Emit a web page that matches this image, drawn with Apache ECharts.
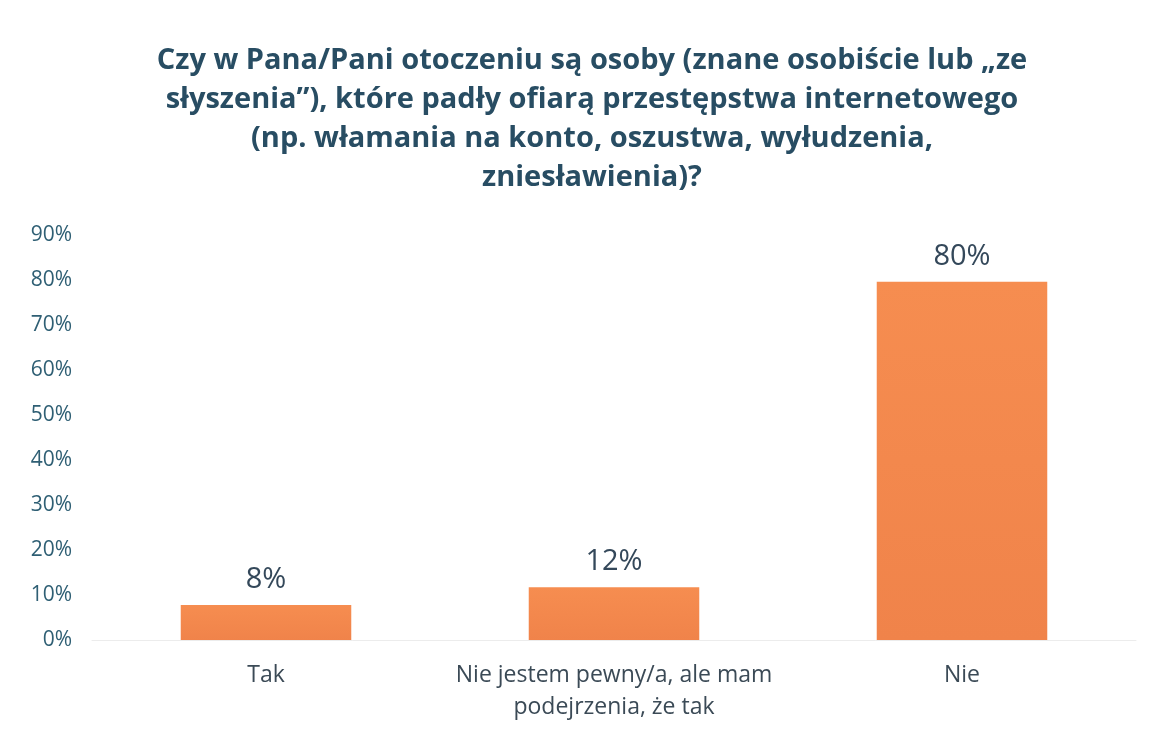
<!DOCTYPE html>
<html>
<head>
<meta charset="utf-8">
<script src="https://cdn.jsdelivr.net/npm/echarts@6/dist/echarts.min.js"></script>
<style>
  html, body { margin: 0; padding: 0; background: #fff; }
  #chart { width: 1151px; height: 733px; }
</style>
</head>
<body>
<div id="chart"></div>
<script>
const titleText = "Czy w Pana/Pani otoczeniu są osoby (znane osobiście lub „ze\nsłyszenia”), które padły ofiarą przestępstwa internetowego\n(np. włamania na konto, oszustwa, wyłudzenia,\nzniesławienia)?";
const categories = ["Tak", "Nie jestem pewny/a, ale mam\npodejrzenia, że tak", "Nie"];
const values = [7.8, 11.7, 79.6];
const yTicks = [0, 10, 20, 30, 40, 50, 60, 70, 80, 90];

const chart = echarts.init(document.getElementById("chart"));

const option = {
  animation: false,
  title: {
    text: titleText,
    left: 587,
    top: 36,
    textAlign: "center",
    textStyle: {
      fontFamily: "Open Sans",
      fontWeight: "bold",
      fontSize: 29,
      lineHeight: 39,
      color: "#284d63",
    },
  },
  grid: {
    left: 92,
    right: 15,
    top: 235,
    bottom: 93,
  },
  xAxis: {
    type: "category",
    data: categories,
    axisLine: { show: true, lineStyle: { color: "#ececec" } },
    axisTick: { show: false },
    axisLabel: {
      interval: 0,
      margin: 19,
      fontFamily: "Open Sans",
      fontSize: 23,
      lineHeight: 32,
      color: "#3b4a56",
    },
  },
  yAxis: {
    type: "value",
    min: yTicks[0],
    max: yTicks[yTicks.length - 1],
    interval: 10,
    splitLine: { show: false },
    axisLine: { show: false },
    axisTick: { show: false },
    axisLabel: {
      margin: 20,
      formatter: (v) => v + "%",
      fontFamily: "Open Sans",
      fontSize: 21,
      color: "#2f5f74",
    },
  },
  series: [
    {
      type: "bar",
      data: values,
      barWidth: "49%",
      itemStyle: {
        color: new echarts.graphic.LinearGradient(0, 0, 0, 1, [
          { offset: 0, color: "#f68d50" },
          { offset: 1, color: "#f0834a" },
        ]),
      },
      label: {
        show: true,
        position: "top",
        distance: 11,
        formatter: (p) => Math.round(p.value) + "%",
        fontFamily: "Open Sans",
        fontSize: 29,
        color: "#34485a",
      },
    },
  ],
};

chart.setOption(option);
</script>
</body>
</html>
